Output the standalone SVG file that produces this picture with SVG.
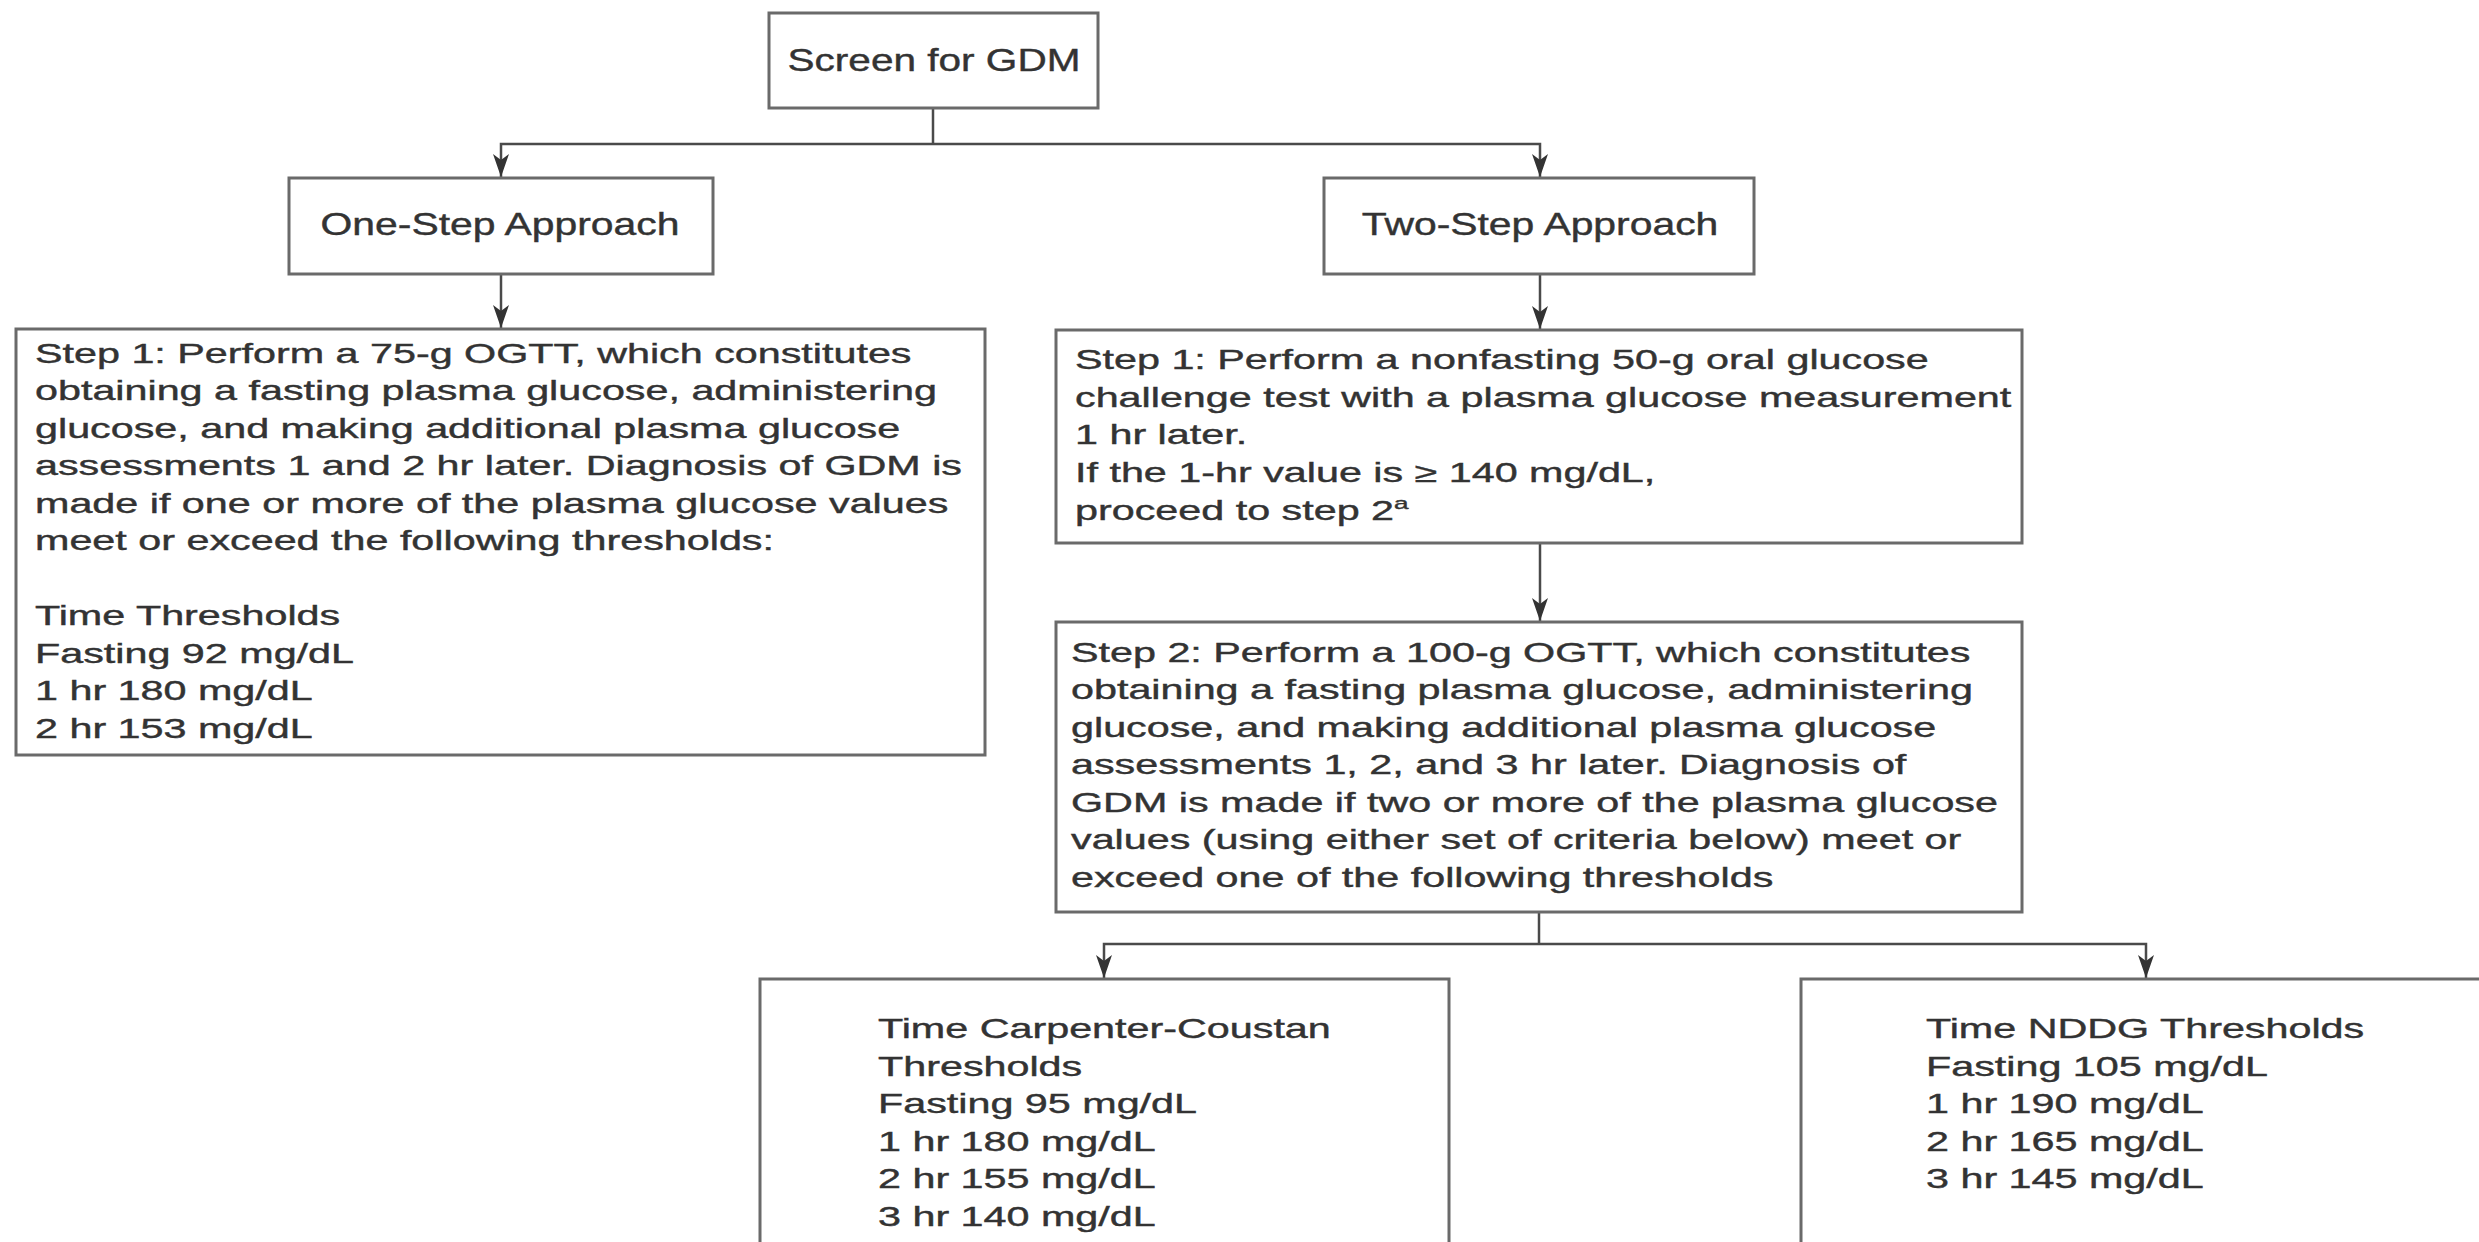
<svg xmlns="http://www.w3.org/2000/svg" width="2479" height="1242" viewBox="0 0 2479 1242">
<style>
.box{fill:#fff;stroke:#6a6a6a;stroke-width:3}
.con{fill:none;stroke:#4a4a4a;stroke-width:2.5}
.title{font-family:"Liberation Sans",Arial,sans-serif;font-size:30.5px;fill:#333;stroke:#333;stroke-width:0.4}
.body{font-family:"Liberation Sans",Arial,sans-serif;font-size:27px;fill:#333;stroke:#333;stroke-width:0.4}
</style>
<defs>
<marker id="arr" viewBox="-25 -10 27 20" markerWidth="27" markerHeight="20" refX="0" refY="0" orient="auto" markerUnits="userSpaceOnUse">
<path d="M0,0 L-23,-8 L-17,0 L-23,8 Z" fill="#333"/>
</marker>
</defs>
<rect width="2479" height="1242" fill="#fff"/>

<g id="connectors">
<path class="con" d="M933,108 V144"/>
<path class="con" d="M933,144 H501 V177" marker-end="url(#arr)"/>
<path class="con" d="M933,144 H1540 V177" marker-end="url(#arr)"/>
<path class="con" d="M501,274 V328" marker-end="url(#arr)"/>
<path class="con" d="M1540,274 V329" marker-end="url(#arr)"/>
<path class="con" d="M1540,543 V621" marker-end="url(#arr)"/>
<path class="con" d="M1539,912 V944"/>
<path class="con" d="M1539,944 H1104 V978" marker-end="url(#arr)"/>
<path class="con" d="M1539,944 H2146 V978" marker-end="url(#arr)"/>
</g>

<g id="screen">
<rect class="box" x="769" y="13" width="329" height="95"/>
<text class="title" transform="translate(934,71) scale(1.33,1)" text-anchor="middle">Screen for GDM</text>
</g>

<g id="one-step">
<rect class="box" x="289" y="178" width="424" height="96"/>
<text class="title" transform="translate(500,235) scale(1.34,1)" text-anchor="middle">One-Step Approach</text>
</g>

<g id="two-step">
<rect class="box" x="1324" y="178" width="430" height="96"/>
<text class="title" transform="translate(1540,235) scale(1.34,1)" text-anchor="middle">Two-Step Approach</text>
</g>

<g id="one-step-step1">
<rect class="box" x="16" y="329" width="969" height="426"/>
<text class="body" transform="translate(35,363) scale(1.53,1)">
<tspan x="0" y="0">Step 1: Perform a 75-g OGTT, which constitutes</tspan>
<tspan x="0" y="37.5">obtaining a fasting plasma glucose, administering</tspan>
<tspan x="0" y="75">glucose, and making additional plasma glucose</tspan>
<tspan x="0" y="112.5">assessments 1 and 2 hr later. Diagnosis of GDM is</tspan>
<tspan x="0" y="150">made if one or more of the plasma glucose values</tspan>
<tspan x="0" y="187.5">meet or exceed the following thresholds:</tspan>
<tspan x="0" y="262.5">Time Thresholds</tspan>
<tspan x="0" y="300">Fasting 92 mg/dL</tspan>
<tspan x="0" y="337.5">1 hr 180 mg/dL</tspan>
<tspan x="0" y="375">2 hr 153 mg/dL</tspan>
</text>
</g>

<g id="two-step-step1">
<rect class="box" x="1056" y="330" width="966" height="213"/>
<text class="body" transform="translate(1075,369) scale(1.53,1)">
<tspan x="0" y="0">Step 1: Perform a nonfasting 50-g oral glucose</tspan>
<tspan x="0" y="37.7">challenge test with a plasma glucose measurement</tspan>
<tspan x="0" y="75.4">1 hr later.</tspan>
<tspan x="0" y="113.1">If the 1-hr value is ≥ 140 mg/dL,</tspan>
<tspan x="0" y="150.8">proceed to step 2</tspan><tspan dy="-11" font-size="17px">a</tspan>
</text>
</g>

<g id="two-step-step2">
<rect class="box" x="1056" y="622" width="966" height="290"/>
<text class="body" transform="translate(1071,662) scale(1.53,1)">
<tspan x="0" y="0">Step 2: Perform a 100-g OGTT, which constitutes</tspan>
<tspan x="0" y="37.5">obtaining a fasting plasma glucose, administering</tspan>
<tspan x="0" y="75">glucose, and making additional plasma glucose</tspan>
<tspan x="0" y="112.5">assessments 1, 2, and 3 hr later. Diagnosis of</tspan>
<tspan x="0" y="150">GDM is made if two or more of the plasma glucose</tspan>
<tspan x="0" y="187.5">values (using either set of criteria below) meet or</tspan>
<tspan x="0" y="225">exceed one of the following thresholds</tspan>
</text>
</g>

<g id="carpenter-coustan">
<rect class="box" x="760" y="979" width="689" height="300"/>
<text class="body" transform="translate(878,1038) scale(1.53,1)">
<tspan x="0" y="0">Time Carpenter-Coustan</tspan>
<tspan x="0" y="37.6">Thresholds</tspan>
<tspan x="0" y="75.2">Fasting 95 mg/dL</tspan>
<tspan x="0" y="112.8">1 hr 180 mg/dL</tspan>
<tspan x="0" y="150.4">2 hr 155 mg/dL</tspan>
<tspan x="0" y="188">3 hr 140 mg/dL</tspan>
</text>
</g>

<g id="nddg">
<rect class="box" x="1801" y="979" width="760" height="300"/>
<text class="body" transform="translate(1926,1038) scale(1.53,1)">
<tspan x="0" y="0">Time NDDG Thresholds</tspan>
<tspan x="0" y="37.6">Fasting 105 mg/dL</tspan>
<tspan x="0" y="75.2">1 hr 190 mg/dL</tspan>
<tspan x="0" y="112.8">2 hr 165 mg/dL</tspan>
<tspan x="0" y="150.4">3 hr 145 mg/dL</tspan>
</text>
</g>
</svg>
